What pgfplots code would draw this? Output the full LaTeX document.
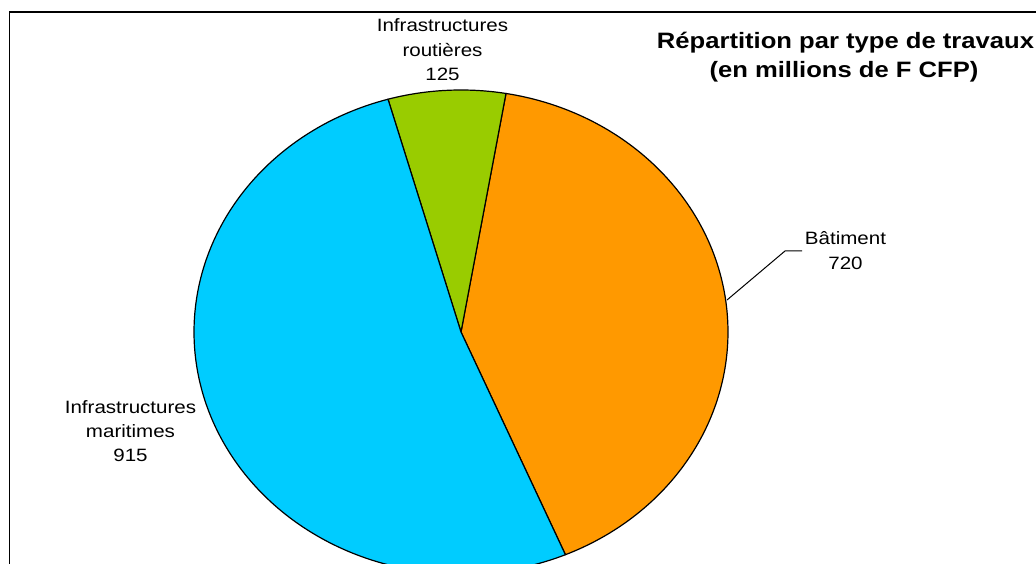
\documentclass[border=0pt]{standalone}
\usepackage{pgfplots}
\pgfplotsset{compat=1.18}
\usepackage{pgfplotstable}
\usepackage{fontspec}
\setmainfont{Liberation Sans}[FakeStretch=1.15]
\definecolor{cOrange}{HTML}{FF9900}
\definecolor{cBlue}{HTML}{00CCFF}
\definecolor{cGreen}{HTML}{99CC00}
\newcommand{\lab}{\fontsize{13.4pt}{16pt}\selectfont}
\newcommand{\ttl}{\fontsize{16.7pt}{20pt}\selectfont\bfseries}

\pgfplotstableread{
part value
Batiment 720
Routieres 125
Maritimes 915
}\piedata

\begin{document}%
\begin{tikzpicture}
\pgfplotstablegetelem{0}{value}\of\piedata \let\vB\pgfplotsretval
\pgfplotstablegetelem{1}{value}\of\piedata \let\vR\pgfplotsretval
\pgfplotstablegetelem{2}{value}\of\piedata \let\vM\pgfplotsretval
\pgfmathsetmacro\tot{\vB+\vR+\vM}
\pgfmathsetmacro\fB{\vB/\tot}
\pgfmathsetmacro\fR{\vR/\tot}
\pgfmathsetmacro\aS{80.3}
\pgfmathsetmacro\aB{\aS-360*\fB}
\pgfmathsetmacro\aR{\aS+360*\fR}
\pgfmathsetmacro\aM{\aB+360}
\begin{axis}[at={(0,0)}, anchor=south west, scale only axis, width=777pt, height=423pt,
  xmin=0, xmax=1036, ymin=0, ymax=564, hide axis, clip=true]
% Batiment
\addplot[fill=cOrange, draw=black, line width=0.9pt, line join=round, domain=\aB:\aS, samples=150]
  ({461+267*cos(x)},{232+242*sin(x)}) -- (axis cs:461,232) -- cycle;
% Routieres
\addplot[fill=cGreen, draw=black, line width=0.9pt, line join=round, domain=\aS:\aR, samples=40]
  ({461+267*cos(x)},{232+242*sin(x)}) -- (axis cs:461,232) -- cycle;
% Maritimes
\addplot[fill=cBlue, draw=black, line width=0.9pt, line join=round, domain=\aR:\aM, samples=200]
  ({461+267*cos(x)},{232+242*sin(x)}) -- (axis cs:461,232) -- cycle;
% leader line
\draw[line width=0.75pt] (axis cs:727,264) -- (axis cs:785,313) -- (axis cs:802,313);
% frame
\draw[line width=1pt] (axis cs:9.5,-5) -- (axis cs:9.5,552) -- (axis cs:1040,552);
% labels
\node[anchor=base, inner sep=0pt, font=\lab] at (axis cs:442.5,532) {Infrastructures};
\node[anchor=base, inner sep=0pt, font=\lab] at (axis cs:442.5,507) {routières};
\node[anchor=base, inner sep=0pt, font=\lab] at (axis cs:442.5,483) {125};
\node[anchor=base, inner sep=0pt, font=\lab] at (axis cs:845.5,319) {Bâtiment};
\node[anchor=base, inner sep=0pt, font=\lab] at (axis cs:845.5,294) {720};
\node[anchor=base, inner sep=0pt, font=\lab] at (axis cs:130.5,150) {Infrastructures};
\node[anchor=base, inner sep=0pt, font=\lab] at (axis cs:130.5,126) {maritimes};
\node[anchor=base, inner sep=0pt, font=\lab] at (axis cs:130.5,102) {915};
% title
\node[anchor=base, inner sep=0pt, font=\ttl] at (axis cs:845.5,515.5) {Répartition par type de travaux};
\node[anchor=base, inner sep=0pt, font=\ttl] at (axis cs:844,486) {(en millions de F CFP)};
\coordinate (BL) at (rel axis cs:0,0);
\coordinate (TR) at (rel axis cs:1,1);
\end{axis}
\pgfresetboundingbox
\path[use as bounding box] (BL) rectangle (TR);
\end{tikzpicture}%
\end{document}
